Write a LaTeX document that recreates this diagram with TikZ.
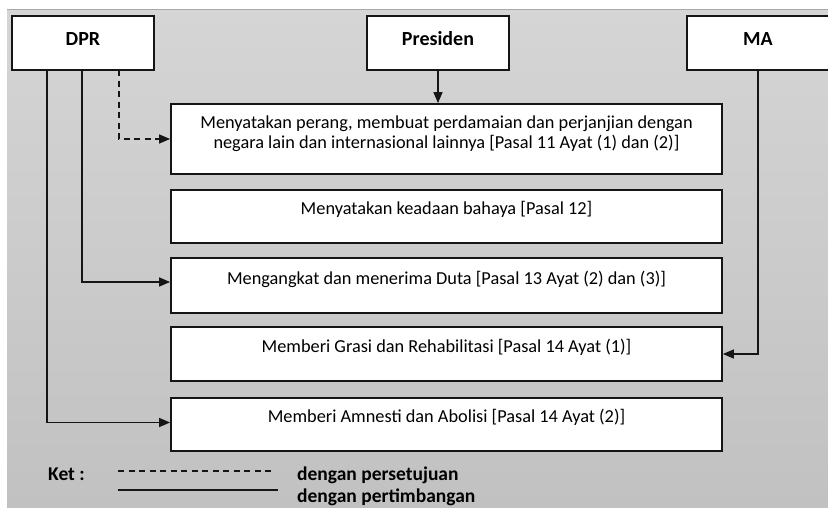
\documentclass[tikz,border=0pt]{standalone}
\usepackage{fontspec}
\setmainfont{Carlito}
\usetikzlibrary{arrows.meta}
\definecolor{bgtop}{HTML}{D5D5D5}
\definecolor{bgbot}{HTML}{C1C1C1}
\definecolor{bgline}{HTML}{A8A8A8}
\definecolor{ink}{HTML}{151515}
\begin{document}
\begin{tikzpicture}[x=1pt,y=-1pt,
  box/.style={draw=ink, line width=1.8pt, fill=white, inner sep=0pt},
  headtxt/.style={font=\fontsize{20}{23}\selectfont\bfseries, anchor=base, inner sep=0pt},
  txt/.style={font=\fontsize{18.3}{20}\selectfont, anchor=base, align=center, inner sep=0pt},
  legtxt/.style={font=\fontsize{19.5}{22}\selectfont\bfseries, anchor=base west, inner sep=0pt},
  link/.style={draw=ink, line width=1.4pt},
  conn/.style={link, -{Triangle[length=11pt,width=9pt]}},
  dsh/.style={dash pattern=on 6pt off 4.5pt}]
\useasboundingbox (0,0) rectangle (828,507);
\fill[white] (0,0) rectangle (828,507);
\shade[top color=bgtop, bottom color=bgbot] (7,9) rectangle (828,507);
\draw[bgline, line width=0.8pt] (7,9) -- (828,9);

% header boxes
\node[box, minimum width=142, minimum height=54] (dpr) at (83,43) {};
\node[box, minimum width=142, minimum height=54] (pres) at (438,43) {};
\node[box, minimum width=142, minimum height=54] (ma) at (758,43) {};
\node[headtxt] (dprt) at (83,45) {DPR};
\node[headtxt] (prest) at (438,45) {Presiden};
\node[headtxt] (mat) at (758,45) {MA};

% content boxes
\node[box, minimum width=551, minimum height=70] (b1) at (446.5,139) {};
\node[box, minimum width=551, minimum height=53] (b2) at (446.5,216.5) {};
\node[box, minimum width=551, minimum height=55] (b3) at (446.5,285.5) {};
\node[box, minimum width=551, minimum height=54] (b4) at (446.5,354) {};
\node[box, minimum width=551, minimum height=53] (b5) at (446.5,424.5) {};

\node[txt] (t1) at (446.5,148) {Menyatakan perang, membuat perdamaian dan perjanjian dengan\\negara lain dan internasional lainnya [Pasal 11 Ayat (1) dan (2)]};
\node[txt] (t2) at (446.5,214) {Menyatakan keadaan bahaya [Pasal 12]};
\node[txt] (t3) at (446.5,284) {Mengangkat dan menerima Duta [Pasal 13 Ayat (2) dan (3)]};
\node[txt] (t4) at (446.5,352) {Memberi Grasi dan Rehabilitasi [Pasal 14 Ayat (1)]};
\node[txt] (t5) at (446.5,422) {Memberi Amnesti dan Abolisi [Pasal 14 Ayat (2)]};

% connectors
\coordinate (d1) at (47,70);
\coordinate (d2) at (82,70);
\coordinate (d3) at (119,70);
\draw[conn] (pres.south) -- (pres.south |- b1.north);
\draw[conn, dsh] (d3) |- (b1.west);
\draw[conn] (d2) |- ([yshift=3.5pt]b3.west);
\draw[conn] (d1) |- ([yshift=2pt]b5.west);
\draw[conn] (ma.south) |- (b4.east);

% legend
\node[legtxt] (ket) at (48,480) {Ket :};
\coordinate (ld1) at (118,471);
\coordinate (ld2) at (272,471);
\coordinate (ls1) at (118,490);
\coordinate (ls2) at (278,490);
\draw[link, dsh] (ld1) -- (ld2);
\draw[link] (ls1) -- (ls2);
\node[legtxt] (lt1) at (297,480) {dengan persetujuan};
\node[legtxt] (lt2) at (297,502) {dengan pertimbangan};
\end{tikzpicture}
\end{document}
